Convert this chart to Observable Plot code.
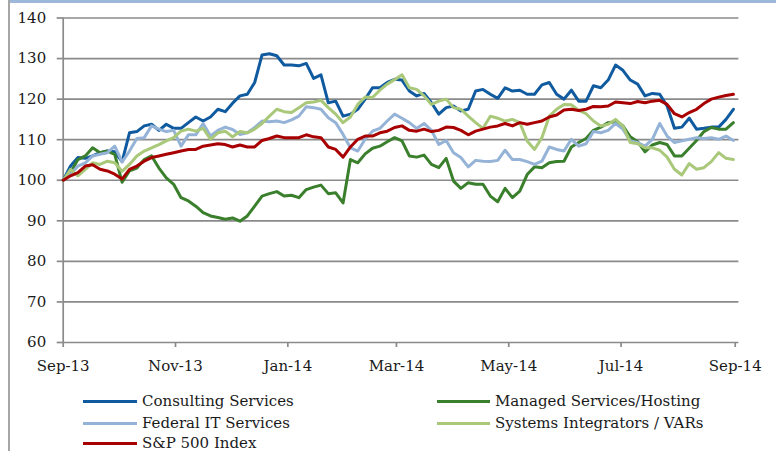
<!DOCTYPE html>
<html><head><meta charset="utf-8">
<script src="https://cdn.jsdelivr.net/npm/d3@7"></script>
<script src="https://cdn.jsdelivr.net/npm/@observablehq/plot@0.6"></script>
<style>
html,body{margin:0;padding:0;background:#fff;}
#wrap{position:relative;width:776px;height:451px;overflow:hidden;font-family:"DejaVu Serif",serif;}
#topbar{position:absolute;left:10px;top:0;width:766px;height:3px;background:#9DB8DA;}
#leftbar{position:absolute;left:8px;top:0;width:1.5px;height:451px;background:#A6A6A6;}
#chart{position:absolute;left:0;top:0;}
#chart svg text{fill:#1a1a1a;}
.leg{position:absolute;font-size:15px;line-height:15px;height:15px;color:#1a1a1a;white-space:nowrap;display:flex;align-items:center;}
.leg i{display:inline-block;width:54px;height:3px;margin-right:5px;}
</style></head>
<body>
<div id="wrap">
  <div id="chart"></div>
  <div id="leftbar"></div>
  <div id="topbar"></div>
  <div id="legend"></div>
</div>
<script>
// ---- data (index values, every 4 days from 1 Sep 2013) ----
const seriesNames = ["Consulting Services", "Managed Services/Hosting", "Federal IT Services", "Systems Integrators / VARs", "S&P 500 Index"];
const seriesColors = ["#105BA0", "#3A7F2C", "#95B3D7", "#A9C87A", "#A80000"];

const consulting = [
  100, 103.5, 105.6, 105.4, 106, 106.8, 107.2, 107, 104.6, 111.7, 112, 113.4, 113.8, 112.3, 113.8, 112.8, 112.8, 114.2, 115.6, 114.6, 115.6, 117.5, 116.9,
  119, 120.8, 121.2, 124.1, 130.9, 131.2, 130.7, 128.4, 128.4, 128.2, 128.8, 125.1, 126, 119.1, 119.5, 115.8, 116.3, 117.5, 120, 122.8, 122.8, 124.1, 124.9,
  124.7, 122, 120.8, 121.4, 119.1, 116.3, 117.9, 118.3, 117.1, 117.5, 122, 122.4, 121.2, 120.2, 122.8, 122, 122.2, 121.2, 121.2, 123.5, 124.1, 121.2, 120,
  122.2, 119.5, 119.5, 123.3, 122.8, 124.7, 128.4, 127.1, 124.7, 123.7, 120.8, 121.4, 121.2, 118.3, 112.8, 113.1, 115.3, 112.6, 112.8, 113.1, 113.1, 115, 117.5
];
const managed = [
  100, 101.9, 105.1, 106, 108, 106.8, 107.2, 106.4, 99.5, 102.3, 103, 105.1, 106, 103, 100.6, 99, 95.7, 94.9, 93.6, 92, 91.2, 90.8, 90.4,
  90.7, 89.9, 91.2, 93.6, 96.1, 96.7, 97.2, 96.1, 96.3, 95.7, 97.7, 98.3, 98.8, 96.7, 96.9, 94.4, 105.1, 104.3, 106.5, 107.9, 108.4, 109.5, 110.5,
  109.7, 106, 105.7, 106.2, 103.9, 103.1, 105.4, 99.8, 98, 99.4, 99, 99, 96.1, 94.7, 98, 95.7, 97.3, 101.4, 103.3, 103.1, 104.3, 104.6, 104.7,
  108.2, 109.3, 110.3, 112.3, 113.1, 114.2, 114.4, 113.4, 110.7, 109.5, 107, 108.7, 109.3, 108.8, 106, 106, 107.9, 109.8, 112, 113, 112.6, 112.6, 114.2
];
const federal = [
  100, 101.5, 103.5, 104.3, 106, 106.4, 106.8, 108.4, 104.5, 107.2, 110.3, 110.5, 113.4, 112.6, 112, 112.3, 108.4, 111.2, 111.2, 114, 110.9, 112.3, 113.1,
  112.5, 111.3, 111.7, 113, 114.6, 114.4, 114.6, 114.2, 114.9, 115.8, 118.1, 117.9, 117.5, 115.4, 114.2, 111.3, 108, 107.2, 110.1, 112.1, 112.8, 114.6, 116.3,
  115.3, 114.2, 112.8, 114, 112.3, 108.8, 109.8, 106.8, 105.6, 103.3, 104.9, 104.7, 104.6, 104.9, 107.4, 105.1, 105.1, 104.6, 103.9, 104.7, 108.2, 107.6, 107.2,
  110.1, 108.4, 109, 112, 111.7, 112.3, 114, 112.6, 109.7, 109.3, 108.4, 110.1, 114, 110.9, 109.3, 109.7, 110.1, 110.5, 110.3, 110.5, 110.1, 110.9, 109.8
];
const systems = [
  100, 102.7, 101.1, 102.7, 104.3, 103.9, 104.7, 104.3, 102.2, 103.9, 106, 107.2, 108, 108.8, 109.7, 110.5, 112.1, 112.6, 112.1, 112.8, 110.1, 111.7, 112.1,
  110.7, 112, 111.7, 112.6, 114, 115.8, 117.5, 116.9, 116.7, 117.9, 119.1, 119.3, 119.7, 117.9, 116.3, 114.2, 115.6, 118.7, 120.5, 120.4, 122.2, 123.7, 124.8,
  126, 122.8, 122.4, 120.8, 118.7, 119.5, 120, 117.9, 117.5, 115.8, 114.2, 112.8, 115.8, 115.3, 114.6, 115, 114.2, 109.7, 107.6, 110.5, 115.8, 117.5, 118.7,
  118.6, 117.2, 116.4, 114.6, 113.4, 113.8, 115, 113.4, 109.3, 109, 108, 108, 107.4, 105.7, 102.7, 101.3, 104.1, 102.7, 103.1, 104.6, 106.8, 105.4, 105.1
];
const sp500 = [
  100, 101.1, 101.9, 103.5, 103.8, 102.7, 102.3, 101.5, 100.3, 102.7, 103.5, 104.7, 105.6, 106, 106.4, 106.8, 107.2, 107.6, 107.6, 108.4, 108.7, 109, 108.8,
  108.2, 108.7, 108.2, 108.2, 109.8, 110.3, 110.9, 110.5, 110.5, 110.5, 111.2, 110.7, 110.5, 108.2, 107.6, 105.7, 108.2, 110.1, 110.9, 110.9, 111.7, 112.1, 113,
  113.4, 112.3, 112.1, 112.6, 112, 112.3, 113.1, 113, 112.3, 111.2, 112.1, 112.6, 113.1, 113.4, 114, 113.4, 114.2, 113.8, 114.2, 114.6, 115.6, 116.1, 117.3,
  117.5, 117.2, 117.5, 118.2, 118.1, 118.3, 119.3, 119.1, 118.9, 119.4, 119.1, 119.5, 119.7, 118.7, 116.4, 115.6, 116.7, 117.5, 118.9, 120, 120.5, 120.9, 121.2
];
const yTicks = [60, 70, 80, 90, 100, 110, 120, 130, 140];
const xTickLabels = ["Sep-13", "Nov-13", "Jan-14", "Mar-14", "May-14", "Jul-14", "Sep-14"];

// ---- build table ----
const startDate = new Date(Date.UTC(2013, 8, 1));
const stepDays = 4;
const allSeries = [consulting, managed, federal, systems, sp500];
const rows = allSeries.flatMap((vals, s) =>
  vals.map((v, i) => ({series: seriesNames[s], date: d3.utcDay.offset(startDate, i * stepDays), value: v})));
const parseTick = d3.utcParse("%b-%y");
const xTicks = xTickLabels.map(parseTick);
const xDomain = [startDate, new Date(Date.UTC(2014, 8, 3))];

const gray = "#8a8a8a";
const chart = Plot.plot({
  width: 776, height: 451,
  marginTop: 17.5, marginBottom: 109, marginLeft: 62.7, marginRight: 37.6,
  style: {fontFamily: '"DejaVu Serif", serif', fontSize: "15px", color: gray, background: "transparent", overflow: "visible"},
  x: {type: "utc", domain: xDomain, label: null},
  y: {domain: [60, 140], label: null},
  marks: [
    Plot.ruleY(yTicks, {stroke: gray, strokeWidth: 1.7}),
    Plot.ruleX([startDate], {stroke: gray, strokeWidth: 1.7}),
    Plot.axisY({ticks: yTicks, tickSize: 6, tickPadding: 11, tickFormat: d => String(d), strokeWidth: 1.7, label: null}),
    Plot.axisX({ticks: xTicks, tickSize: 5, tickPadding: 13, tickFormat: d3.utcFormat("%b-%y"), strokeWidth: 1.7, label: null}),
    ...seriesNames.map((name, s) => Plot.line(rows.filter(r => r.series === name), {
      x: "date", y: "value", stroke: seriesColors[s], strokeWidth: 3, strokeLinejoin: "round", strokeLinecap: "round"
    }))
  ]
});
document.getElementById("chart").appendChild(chart);

// ---- legend ----
const legendPos = [
  {left: 83, top: 394.2, w: 54}, {left: 437, top: 394.2, w: 53},
  {left: 83, top: 415.5, w: 54}, {left: 437, top: 415.5, w: 53},
  {left: 83, top: 436.3, w: 54}
];
const legend = document.getElementById("legend");
seriesNames.forEach((name, s) => {
  const d = document.createElement("div");
  d.className = "leg";
  d.style.left = legendPos[s].left + "px";
  d.style.top = legendPos[s].top + "px";
  const sw = document.createElement("i");
  sw.style.background = seriesColors[s];
  sw.style.width = legendPos[s].w + "px";
  d.appendChild(sw);
  d.appendChild(document.createTextNode(name));
  legend.appendChild(d);
});
</script>
</body></html>
